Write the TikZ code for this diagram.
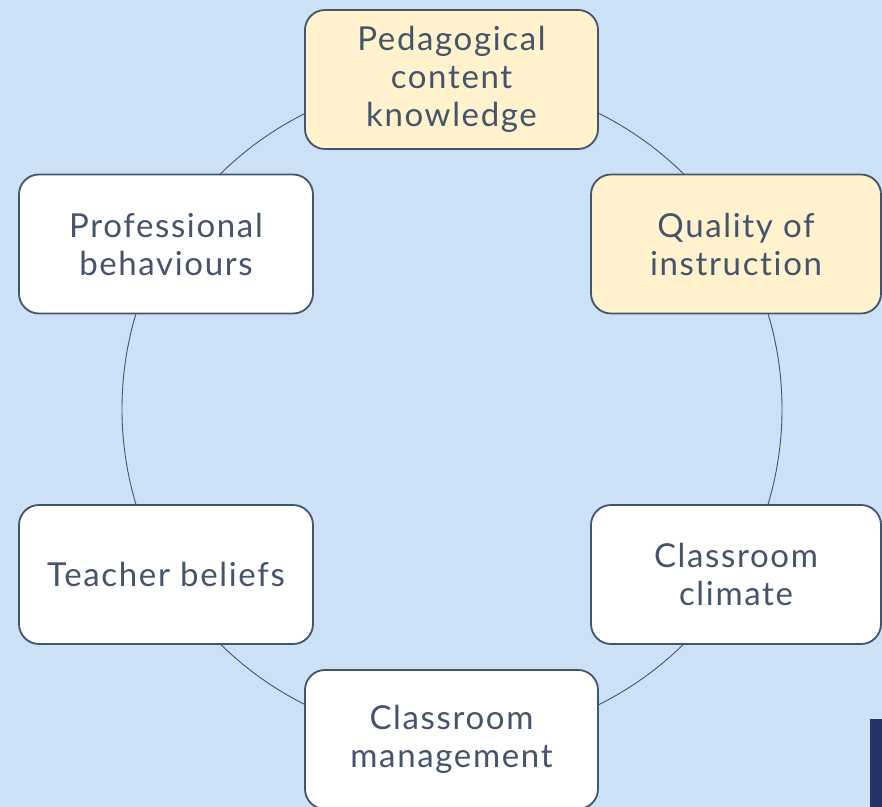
\documentclass[tikz,border=0pt]{standalone}
\usepackage{fontspec}
\setmainfont{Lato}[LetterSpace=5.0, Ligatures={NoCommon}]
\definecolor{bg}{HTML}{CCE1F5}
\definecolor{ink}{HTML}{44546A}
\definecolor{yel}{HTML}{FFF2CC}
\definecolor{navy}{HTML}{263366}
\tikzset{
  box/.style={draw=ink, line width=1.8bp, rounded corners=20bp, fill=white,
    minimum width=#1, minimum height=139bp, align=center, text=ink,
    font=\fontsize{33bp}{38bp}\selectfont, inner sep=0pt},
  box/.default=293bp,
  hl/.style={fill=yel}
}
\begin{document}
\begin{tikzpicture}[x=1bp,y=-1bp]
\useasboundingbox (0,0) rectangle (882,807);
\clip (0,0) rectangle (882,807);
\fill[bg] (0,0) rectangle (882,807);
\node[draw=ink, line width=0.9bp, circle, minimum size=660bp, inner sep=0pt] (ring) at (452,409) {};
\node[box, hl] (pck) at (451.5,79.5) {Pedagogical\\content\\knowledge};
\node[box=290bp, hl] (qoi) at (736,244) {Quality of\\instruction};
\node[box=294bp] (pb) at (166,244) {Professional\\behaviours};
\node[box=294bp] (tb) at (166,574.5) {Teacher beliefs};
\node[box=290bp] (cc) at (736,574.5) {Classroom\\climate};
\node[box] (cm) at (451.5,739.5) {Classroom\\management};
\fill[navy] (870,719) rectangle (882,807);
\end{tikzpicture}
\end{document}
